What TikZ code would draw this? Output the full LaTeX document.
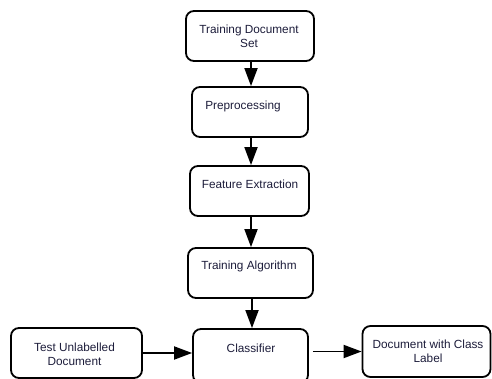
\documentclass[tikz,border=0pt]{standalone}
\usepackage{fontspec}
\setmainfont{Liberation Sans}
\usetikzlibrary{arrows.meta}
\definecolor{txt}{RGB}{28,28,58}
\tikzset{
  box/.style={draw=black, line width=1.8pt, rounded corners=8pt, inner sep=0pt},
  lbl/.style={text=txt, font=\fontsize{11.8}{14}\selectfont, align=center, inner sep=0pt},
  conn/.style={draw=black, line width=1.8pt, -{Triangle[length=18pt,width=13pt]}}
}
\begin{document}
\begin{tikzpicture}[x=1pt,y=-1pt]
\useasboundingbox (0,0) rectangle (492,379);
% boxes
\node[box, minimum width=128pt, minimum height=50pt] (b1) at (250,36) {};
\node[box, minimum width=116pt, minimum height=50pt] (b2) at (250,112) {};
\node[box, minimum width=119pt, minimum height=50pt] (b3) at (249.5,191) {};
\node[box, minimum width=125pt, minimum height=50pt] (b4) at (250.5,273) {};
\node[box, minimum width=115pt, minimum height=54pt] (b5) at (250.5,356) {};
\node[box, minimum width=131pt, minimum height=50pt] (b6) at (76.5,353) {};
\node[box, minimum width=128pt, minimum height=51pt] (b7) at (426.5,351.5) {};
% texts
\node[lbl] (t1) at (249,36) {Training Document\\Set};
\node[lbl] (t2) at (243,106) {Preprocessing};
\node[lbl] (t3) at (250,184) {Feature Extraction};
\node[lbl] (t4) at (249,266) {Training Algorithm};
\node[lbl] (t5) at (251,348) {Classifier};
\node[lbl] (t6) at (74.5,354) {Test Unlabelled\\Document};
\node[lbl] (t7) at (428,351) {Document with Class\\Label};
% connectors
\draw[conn] ([xshift=1pt]b1.south) -- ([xshift=1pt]b2.north);
\draw[conn] ([xshift=1pt]b2.south) -- ([xshift=1.5pt]b3.north);
\draw[conn] ([xshift=1.5pt]b3.south) -- ([xshift=0.5pt]b4.north);
\draw[conn] ([xshift=1.5pt]b4.south) -- ([xshift=1.5pt]b5.north);
\draw[conn] (b6.east) -- (b6.east -| b5.west);
\draw[conn, shorten <=4pt] (b5.east |- b7.west) -- (b7.west);
\end{tikzpicture}
\end{document}
